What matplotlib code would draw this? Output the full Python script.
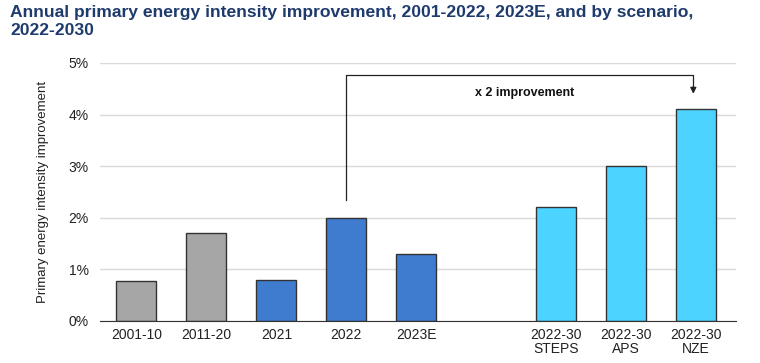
import numpy as np
import matplotlib.pyplot as plt

plt.rcParams['font.family'] = ['Liberation Sans', 'DejaVu Sans']

# Data
categories = ['2001-10', '2011-20', '2021', '2022', '2023E',
              '2022-30\nSTEPS', '2022-30\nAPS', '2022-30\nNZE']
positions = [0, 1, 2, 3, 4, 6, 7, 8]
values = [0.78, 1.7, 0.8, 2.0, 1.3, 2.2, 3.0, 4.1]
colors = ['#A6A6A6', '#A6A6A6', '#3F7CD0', '#3F7CD0', '#3F7CD0',
          '#4DD3FF', '#4DD3FF', '#4DD3FF']

fig = plt.figure(figsize=(7.6, 3.63), dpi=100)
ax = fig.add_axes([100 / 760, 1 - 321 / 363, 636 / 760, 258 / 363])

ax.bar(positions, values, width=0.57, color=colors, edgecolor='#333333',
       linewidth=1, zorder=3)

ax.set_ylim(0, 5)
ax.set_xlim(-0.52, 8.57)
ax.set_yticks(np.arange(0, 6, 1))
ax.set_yticklabels([f'{i}%' for i in range(6)])
ax.set_xticks(positions)
ax.set_xticklabels(categories, linespacing=1.0)
ax.tick_params(axis='both', length=0, labelsize=10, colors='#222222')
ax.tick_params(axis='y', pad=8)
ax.tick_params(axis='x', pad=5)
ax.yaxis.grid(True, color='#D9D9D9', linewidth=1, zorder=0)
for s in ['top', 'right', 'left']:
    ax.spines[s].set_visible(False)
ax.spines['bottom'].set_color('#333333')
ax.spines['bottom'].set_zorder(4)

ax.set_ylabel('Primary energy intensity improvement', fontsize=9.5,
              color='#222222', labelpad=14)

# x 2 improvement bracket
ax.plot([3, 3, 8 - 0.04, 8 - 0.04], [2.35, 4.77, 4.77, 4.55],
        color='#222222', linewidth=0.9, zorder=5)
ax.annotate('', xy=(8 - 0.04, 4.35), xytext=(8 - 0.04, 4.6),
            arrowprops=dict(arrowstyle='-|>', color='#222222', lw=0.9,
                            mutation_scale=9))
ax.text(5.55, 4.42, 'x 2 improvement', ha='center', va='center',
        fontsize=9, fontweight='bold', color='#111111')

fig.text(0.013, 0.985, 'Annual primary energy intensity improvement, 2001-2022, 2023E, and by scenario,\n2022-2030',
         ha='left', va='top', fontsize=12.6, fontweight='bold',
         color='#1F3B6E', linespacing=1.2)

fig.savefig('out.png', dpi=100)
